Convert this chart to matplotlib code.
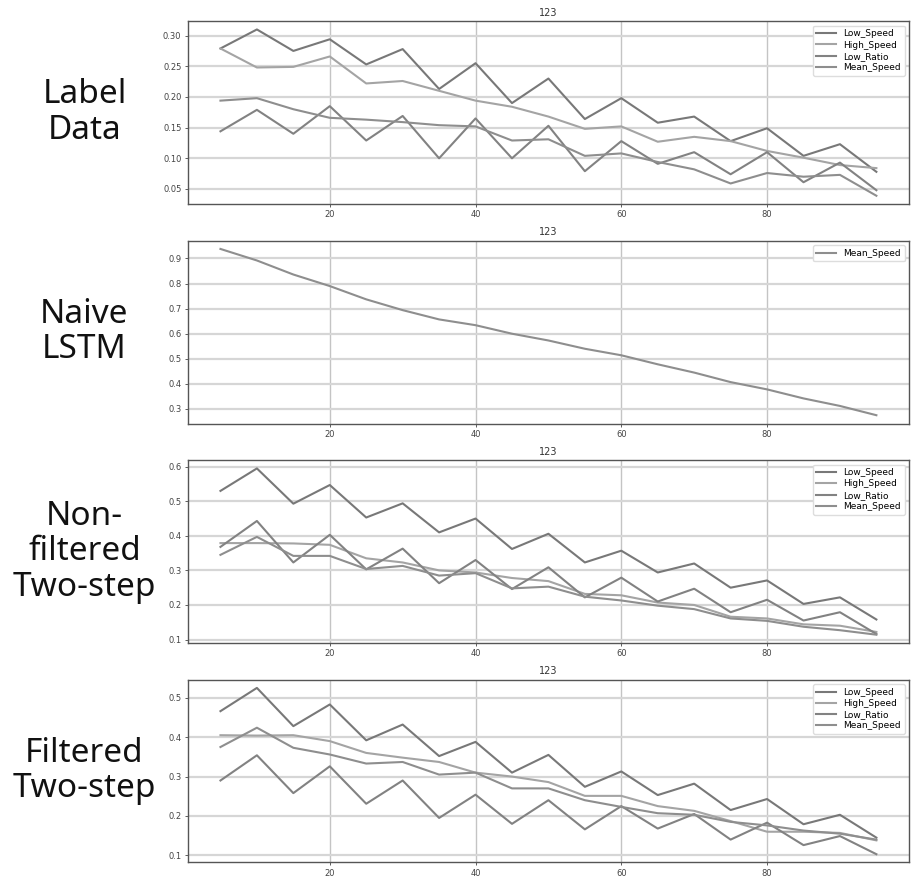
import matplotlib.pyplot as plt

steps = list(range(5, 100, 5))

# label data
label_low_speed = [0.279, 0.310, 0.275, 0.294, 0.253, 0.278, 0.213, 0.255, 0.190, 0.230,
                   0.164, 0.198, 0.158, 0.168, 0.128, 0.149, 0.104, 0.123, 0.078]
label_high_speed = [0.279, 0.248, 0.249, 0.266, 0.222, 0.226, 0.210, 0.194, 0.184, 0.168,
                    0.148, 0.152, 0.127, 0.135, 0.128, 0.112, 0.101, 0.089, 0.084]
label_low_ratio = [0.144, 0.179, 0.140, 0.185, 0.129, 0.169, 0.100, 0.165, 0.100, 0.153,
                   0.079, 0.128, 0.091, 0.110, 0.074, 0.110, 0.061, 0.093, 0.048]
label_mean_speed = [0.194, 0.198, 0.180, 0.166, 0.163, 0.159, 0.154, 0.152, 0.129, 0.131,
                    0.104, 0.108, 0.094, 0.082, 0.059, 0.076, 0.070, 0.073, 0.039]

# naive lstm
naive_mean_speed = [0.938, 0.892, 0.836, 0.790, 0.737, 0.694, 0.657, 0.634, 0.600, 0.573,
                    0.540, 0.514, 0.478, 0.445, 0.407, 0.378, 0.342, 0.312, 0.275]

# non-filtered two-step
nf_low_speed = [0.530, 0.595, 0.493, 0.547, 0.453, 0.494, 0.410, 0.450, 0.362, 0.406,
                0.323, 0.357, 0.294, 0.320, 0.250, 0.271, 0.203, 0.222, 0.158]
nf_high_speed = [0.379, 0.379, 0.378, 0.374, 0.335, 0.323, 0.300, 0.294, 0.278, 0.269,
                 0.232, 0.228, 0.207, 0.200, 0.166, 0.161, 0.144, 0.140, 0.122]
nf_low_ratio = [0.368, 0.443, 0.323, 0.403, 0.303, 0.363, 0.263, 0.330, 0.246, 0.309,
                0.222, 0.279, 0.210, 0.247, 0.179, 0.215, 0.155, 0.179, 0.116]
nf_mean_speed = [0.345, 0.397, 0.342, 0.342, 0.304, 0.313, 0.285, 0.292, 0.248, 0.253,
                 0.224, 0.213, 0.198, 0.188, 0.161, 0.154, 0.137, 0.127, 0.114]

# filtered two-step
f_low_speed = [0.466, 0.525, 0.428, 0.483, 0.392, 0.432, 0.352, 0.388, 0.310, 0.355,
               0.274, 0.313, 0.253, 0.282, 0.215, 0.243, 0.179, 0.203, 0.145]
f_high_speed = [0.405, 0.404, 0.405, 0.390, 0.360, 0.348, 0.337, 0.310, 0.300, 0.286,
                0.251, 0.251, 0.225, 0.213, 0.187, 0.160, 0.160, 0.157, 0.138]
f_low_ratio = [0.290, 0.354, 0.258, 0.326, 0.231, 0.290, 0.195, 0.254, 0.180, 0.240,
               0.166, 0.225, 0.168, 0.205, 0.140, 0.183, 0.126, 0.149, 0.103]
f_mean_speed = [0.375, 0.424, 0.373, 0.356, 0.333, 0.337, 0.305, 0.310, 0.270, 0.270,
                0.240, 0.223, 0.207, 0.203, 0.185, 0.176, 0.163, 0.155, 0.140]

names = ['Low_Speed', 'High_Speed', 'Low_Ratio', 'Mean_Speed']
grays = ['#787878', '#a4a4a4', '#828282', '#8e8e8e']

panels = [
    ('Label\nData', [label_low_speed, label_high_speed, label_low_ratio, label_mean_speed], names),
    ('Naive\nLSTM', [naive_mean_speed], ['Mean_Speed']),
    ('Non-\nfiltered\nTwo-step', [nf_low_speed, nf_high_speed, nf_low_ratio, nf_mean_speed], names),
    ('Filtered\nTwo-step', [f_low_speed, f_high_speed, f_low_ratio, f_mean_speed], names),
]

fig, axes = plt.subplots(4, 1, figsize=(9.11, 8.81), dpi=100)
fig.subplots_adjust(left=0.206, right=0.998, top=0.976, bottom=0.021, hspace=0.2)

for ax, (side_label, series, labels) in zip(axes, panels):
    for i, (ys, lab) in enumerate(zip(series, labels)):
        c = grays[3] if lab == 'Mean_Speed' and len(series) == 1 else grays[i]
        ax.plot(steps, ys, color=c, linewidth=1.5, label=lab)
    ax.set_title('123', fontsize=7, color='#333333', pad=4)
    ax.set_xticks([20, 40, 60, 80])
    ax.tick_params(labelsize=6, colors='#444444', length=2.5, width=0.6, pad=2)
    ax.grid(True, axis='x', color='#c4c4c4', linewidth=1.0)
    ax.grid(True, axis='y', color='#d6d6d6', linewidth=1.6)
    for sp in ax.spines.values():
        sp.set_color('#555555')
        sp.set_linewidth(1.0)
    ax.legend(loc='upper right', fontsize=6.5, handlelength=2.2, labelspacing=0.25,
              framealpha=1, edgecolor='#dddddd', fancybox=True, borderpad=0.4)
    ax.text(-0.143, 0.5, side_label, transform=ax.transAxes, ha='center', va='center',
            fontsize=24, family='Noto Sans', color='#111111', linespacing=1.1)

fig.savefig('out.png', dpi=100)
